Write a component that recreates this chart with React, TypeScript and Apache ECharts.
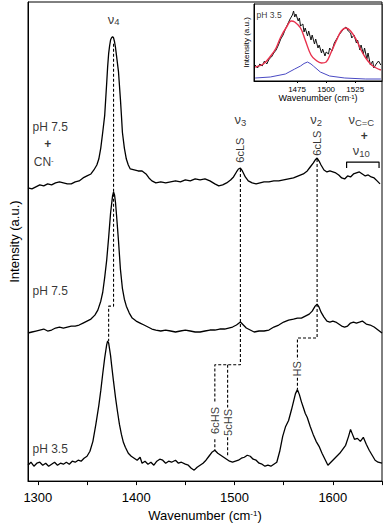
import React, { useEffect, useRef } from "react";
import * as echarts from "echarts";

const FONT = '"Liberation Sans", Arial, Helvetica, sans-serif';

// ---- main axis ticks ----
const xTickValues = [1300, 1350, 1400, 1450, 1500, 1550, 1600, 1650];
const xTickLabels = [1300, 1400, 1500, 1600];

// ---- pH 7.5 + CN- (top trace) ----
const wnCN = [1290, 1294, 1298, 1302, 1306, 1310, 1314, 1318, 1322, 1326, 1330, 1334, 1338, 1342, 1346, 1350, 1354, 1357, 1360, 1362, 1364, 1366, 1368, 1369, 1370, 1371, 1372, 1373, 1374, 1375, 1376, 1377, 1378, 1379, 1380, 1381, 1382, 1383, 1384, 1385, 1386, 1388, 1390, 1392, 1394, 1398, 1402, 1406, 1410, 1413, 1416, 1420, 1425, 1430, 1435, 1440, 1445, 1450, 1455, 1460, 1465, 1470, 1475, 1480, 1484, 1488, 1492, 1496, 1499, 1502, 1504, 1506, 1508, 1511, 1514, 1518, 1522, 1526, 1530, 1535, 1540, 1545, 1550, 1555, 1560, 1565, 1570, 1574, 1577, 1580, 1582, 1584, 1586, 1588, 1591, 1594, 1597, 1600, 1603, 1606, 1609, 1612, 1615, 1618, 1621, 1624, 1627, 1630, 1633, 1636, 1639, 1642, 1645, 1648, 1650];
const intCN = [295, 294, 296, 298, 297, 299, 298, 300, 301, 300, 299, 299, 301, 302, 305, 307, 309, 313, 318, 324, 335, 351, 368, 384, 400, 417, 430, 438, 444, 446, 447, 446, 442, 436, 428, 420, 412, 398, 384, 368, 351, 335, 324, 318, 314, 313, 312, 312, 309, 305, 302, 300, 301, 300, 301, 302, 301, 303, 302, 304, 303, 304, 302, 299, 297, 298, 300, 303, 306, 311, 314, 315, 312, 306, 302, 300, 299, 300, 301, 301, 302, 302, 303, 304, 305, 307, 309, 312, 316, 320, 323, 325, 322, 318, 313, 311, 312, 311, 310, 308, 305, 304, 307, 306, 309, 310, 311, 309, 307, 308, 306, 305, 302, 299];

// ---- pH 7.5 (middle trace) ----
const wnNeutral = [1290, 1294, 1298, 1302, 1306, 1310, 1314, 1318, 1322, 1326, 1330, 1334, 1338, 1342, 1346, 1350, 1354, 1358, 1361, 1364, 1366, 1368, 1370, 1372, 1374, 1376, 1377, 1378, 1379, 1380, 1382, 1384, 1386, 1388, 1390, 1393, 1396, 1400, 1404, 1408, 1412, 1416, 1420, 1425, 1430, 1435, 1440, 1445, 1450, 1455, 1460, 1465, 1470, 1475, 1480, 1485, 1490, 1494, 1498, 1502, 1506, 1509, 1512, 1516, 1520, 1525, 1530, 1535, 1540, 1545, 1550, 1555, 1560, 1564, 1568, 1572, 1576, 1579, 1582, 1584, 1586, 1588, 1591, 1594, 1597, 1600, 1603, 1606, 1609, 1612, 1615, 1618, 1621, 1624, 1627, 1630, 1634, 1638, 1642, 1646, 1650];
const intNeutral = [149, 150, 151, 152, 153, 151, 152, 154, 155, 154, 155, 156, 156, 157, 159, 161, 163, 167, 172, 181, 190, 205, 222, 245, 270, 287, 291, 288, 280, 268, 242, 213, 194, 183, 176, 169, 164, 161, 159, 157, 155, 153, 152, 151, 152, 151, 150, 151, 152, 151, 150, 150, 151, 152, 152, 153, 153, 154, 155, 157, 160, 157, 154, 152, 150, 151, 151, 152, 155, 157, 160, 162, 163, 164, 164, 166, 168, 171, 176, 178, 175, 170, 165, 161, 160, 161, 160, 158, 156, 155, 156, 159, 160, 159, 160, 161, 158, 157, 155, 152, 149];

// ---- pH 3.5 (bottom trace) ----
const wnAcid = [1290, 1293, 1296, 1299, 1302, 1305, 1308, 1311, 1314, 1317, 1320, 1323, 1326, 1329, 1332, 1335, 1338, 1341, 1344, 1347, 1350, 1353, 1356, 1359, 1362, 1364, 1366, 1368, 1370, 1371, 1372, 1374, 1375, 1377, 1379, 1381, 1383, 1385, 1387, 1389, 1392, 1395, 1398, 1401, 1404, 1406, 1409, 1412, 1415, 1418, 1421, 1424, 1427, 1430, 1433, 1436, 1440, 1443, 1446, 1450, 1453, 1456, 1459, 1462, 1465, 1468, 1471, 1474, 1477, 1480, 1483, 1486, 1489, 1492, 1495, 1498, 1501, 1504, 1507, 1510, 1513, 1516, 1519, 1522, 1525, 1528, 1531, 1534, 1537, 1540, 1543, 1546, 1549, 1552, 1555, 1558, 1560, 1562, 1564, 1566, 1568, 1570, 1572, 1574, 1577, 1580, 1583, 1586, 1589, 1592, 1595, 1598, 1601, 1604, 1607, 1610, 1613, 1616, 1618, 1620, 1622, 1625, 1628, 1631, 1634, 1637, 1640, 1643, 1646, 1650];
const intAcid = [16, 19, 15, 18, 19, 16, 18, 15, 17, 19, 16, 18, 17, 19, 17, 20, 19, 21, 20, 23, 25, 30, 40, 57, 76, 91, 108, 124, 137, 141, 139, 126, 117, 100, 84, 70, 57, 47, 39, 34, 28, 25, 23, 21, 24, 18, 20, 17, 19, 16, 20, 22, 21, 18, 20, 19, 21, 18, 19, 17, 16, 13, 11, 14, 16, 18, 21, 25, 29, 31, 28, 26, 24, 22, 20, 19, 20, 21, 23, 24, 26, 25, 22, 21, 18, 17, 15, 16, 15, 17, 19, 30, 45, 55, 61, 72, 80, 88, 92, 87, 80, 74, 68, 64, 55, 47, 40, 35, 28, 22, 16, 19, 22, 25, 28, 32, 36, 45, 52, 47, 42, 43, 40, 44, 37, 31, 26, 21, 19, 18];

// ---- inset (pH 3.5, 1440-1550) ----
const insetTickLabels = [1475, 1500, 1525];
const wnInsetRaw = [1439, 1441, 1443, 1445, 1447, 1449, 1451, 1453, 1455, 1457, 1459, 1461, 1463, 1465, 1467, 1469, 1471, 1472, 1473, 1474, 1476, 1477, 1478, 1480, 1481, 1482, 1484, 1485, 1487, 1488, 1490, 1491, 1493, 1494, 1496, 1497, 1499, 1500, 1502, 1503, 1505, 1507, 1509, 1511, 1513, 1515, 1517, 1519, 1521, 1522, 1524, 1526, 1527, 1529, 1530, 1532, 1533, 1535, 1536, 1538, 1540, 1541, 1543, 1545, 1547];
const intInsetRaw = [16, 13, 17, 15, 20, 17, 22, 24, 28, 31, 36, 42, 46, 52, 57, 62, 66, 70, 64, 67, 60, 63, 55, 57, 49, 53, 45, 50, 41, 46, 37, 42, 33, 36, 28, 32, 25, 29, 27, 33, 30, 38, 42, 46, 49, 52, 54, 50, 48, 43, 46, 38, 41, 31, 36, 27, 33, 22, 28, 16, 20, 13, 17, 20, 16];
const wnInsetFit = [1439, 1446, 1453, 1457, 1461, 1466, 1470, 1473, 1478, 1482, 1487, 1491, 1496, 1500, 1504, 1509, 1513, 1517, 1521, 1526, 1530, 1534, 1539, 1543, 1547];
const intInsetFit = [14, 17, 26, 33, 44, 54, 60, 59, 53, 41, 26, 21, 18, 19, 28, 41, 50, 53, 50, 41, 31, 23, 16, 13, 11];
const wnInsetBand = [1439, 1452, 1465, 1473, 1478, 1481, 1484, 1487, 1489, 1495, 1503, 1516, 1534, 1547];
const intInsetBand = [3, 4, 7, 12, 15, 17.5, 19, 17, 15, 9, 5, 3, 2, 2];

// ---- dashed guide lines (data coordinates) ----
const guideV4 = [[1377, 440], [1377, 176], [1372, 176], [1372, 141]];
const guideV3 = [[1506, 314], [1506, 117], [1480, 117], [1480, 80]];
const guide5cHSUpper = [[1493, 117], [1493, 74]];
const guide6cHSLower = [[1480, 42], [1480, 31]];
const guide5cHSLower = [[1493, 44], [1493, 26]];
const guideV2 = [[1584, 324], [1584, 144], [1564, 144], [1564, 122]];
const guideHSLower = [[1564, 104], [1564, 92]];
const bracketCC = [[1614, 315], [1614, 321], [1647, 321], [1647, 315]];

// ---- text annotations (data coordinates) ----
const modeLabels = [
  { at: [1377, 462], text: "{n|ν}{s|4}" },
  { at: [1506, 361], text: "{n|ν}{s|3}" },
  { at: [1583, 361], text: "{n|ν}{s|2}" },
  { at: [1629, 361], text: "{n|ν}{s|C=C}" },
  { at: [1632, 347], text: "{p|+}" },
  { at: [1629, 330], text: "{n|ν}{s|10}" },
];
const spinLabels = [
  { at: [1506, 333], text: "6cLS" },
  { at: [1584, 340], text: "6cLS" },
  { at: [1480, 61], text: "6cHS" },
  { at: [1493, 59], text: "5cHS" },
  { at: [1564, 113], text: "HS" },
];
const sampleLabels = [
  { at: [1312.5, 356], text: "pH 7.5" },
  { at: [1310, 339], text: "{p|+}" },
  { at: [1306, 321], text: "CN{u|-}" },
  { at: [1312.5, 191], text: "pH 7.5" },
  { at: [1312.5, 32], text: "pH 3.5" },
];

const pairs = (xs: number[], ys: number[]) => xs.map((x, i) => [x, ys[i]]);

export default function App() {
  const ref = useRef<HTMLDivElement>(null);
  useEffect(() => {
    document.body.style.margin = "0";
    const chart = echarts.init(ref.current!, null, { renderer: "svg" });
    const traceStyle = { color: "#000", width: 1.3 };
    const plain = (v: number) => String(v);
    const dashed = (data: number[][]) => ({
      type: "line",
      xAxisIndex: 0,
      yAxisIndex: 0,
      data,
      symbol: "none",
      silent: true,
      lineStyle: { color: "#000", width: 1.1, type: [3, 2] },
    });
    const rich = {
      n: { fontSize: 13, fontFamily: FONT, color: "#000", padding: [0, 0, 5, 0] },
      s: { fontSize: 9.5, fontFamily: FONT, color: "#000" },
      p: { fontSize: 12, fontFamily: FONT, color: "#000", fontWeight: "bold" },
      u: { fontSize: 8, fontFamily: FONT, color: "#000", verticalAlign: "top" },
    };
    const labelSeries = (items: { at: number[]; text: string }[], extra: any, xi = 0) => ({
      type: "scatter",
      xAxisIndex: xi,
      yAxisIndex: xi,
      symbolSize: 0,
      silent: true,
      data: items.map((d) => ({ value: d.at, label: { formatter: d.text } })),
      label: {
        show: true,
        position: "inside",
        color: "#000",
        fontFamily: FONT,
        rich,
        ...extra,
      },
      z: 5,
    });

    chart.setOption({
      animation: false,
      backgroundColor: "#fff",
      grid: [
        { left: 23, right: 4, top: 2, bottom: 43, show: true, borderColor: "#000", borderWidth: 1 },
        { left: 254, right: 4, top: 4, height: 77, show: true, borderColor: "#000", borderWidth: 1, backgroundColor: "#fff", z: 10 },
      ],
      xAxis: [
        {
          type: "value",
          gridIndex: 0,
          min: 1290,
          max: 1650,
          axisLine: { show: true, lineStyle: { color: "#000" } },
          axisTick: { show: true, inside: false, length: 4, customValues: xTickValues, lineStyle: { color: "#000" } },
          axisLabel: { customValues: xTickLabels, formatter: plain, color: "#000", fontSize: 13, fontFamily: FONT, margin: 10 },
          splitLine: { show: false },
          name: "Wavenumber (cm{u|-1})",
          nameLocation: "middle",
          nameGap: 27,
          nameTextStyle: {
            color: "#000",
            fontSize: 13,
            fontFamily: FONT,
            rich: { u: { fontSize: 8, fontFamily: FONT, color: "#000", verticalAlign: "top" } },
          },
        },
        {
          type: "value",
          gridIndex: 1,
          min: 1438,
          max: 1548,
          axisLine: { show: true, lineStyle: { color: "#000" } },
          axisTick: { show: true, length: 2, customValues: insetTickLabels, lineStyle: { color: "#000" } },
          axisLabel: { customValues: insetTickLabels, formatter: plain, color: "#000", fontSize: 8, fontFamily: FONT, margin: 4 },
          splitLine: { show: false },
          name: "Wavenumber (cm{u|-1})",
          nameLocation: "middle",
          nameGap: 11,
          nameTextStyle: {
            color: "#000",
            fontSize: 9,
            fontFamily: FONT,
            rich: { u: { fontSize: 6, fontFamily: FONT, color: "#000", verticalAlign: "top" } },
          },
          z: 10,
        },
      ],
      yAxis: [
        {
          type: "value",
          gridIndex: 0,
          min: 0,
          max: 482,
          axisLine: { show: true, lineStyle: { color: "#000" } },
          axisTick: { show: false },
          axisLabel: { show: false },
          splitLine: { show: false },
          name: "Intensity (a.u.)",
          nameLocation: "middle",
          nameGap: 7,
          nameTextStyle: { color: "#000", fontSize: 13, fontFamily: FONT },
        },
        {
          type: "value",
          gridIndex: 1,
          min: 0,
          max: 77,
          axisLine: { show: true, lineStyle: { color: "#000" } },
          axisTick: { show: false },
          axisLabel: { show: false },
          splitLine: { show: false },
          name: "Intensity (a.u.)",
          nameLocation: "middle",
          nameGap: 4,
          nameTextStyle: { color: "#000", fontSize: 8, fontFamily: FONT },
          z: 10,
        },
      ],
      series: [
        { type: "line", data: pairs(wnCN, intCN), symbol: "none", lineStyle: traceStyle, z: 3 },
        { type: "line", data: pairs(wnNeutral, intNeutral), symbol: "none", lineStyle: traceStyle, z: 3 },
        { type: "line", data: pairs(wnAcid, intAcid), symbol: "none", lineStyle: traceStyle, z: 3 },
        dashed(guideV4),
        dashed(guideV3),
        dashed(guide5cHSUpper),
        dashed(guide6cHSLower),
        dashed(guide5cHSLower),
        dashed(guideV2),
        dashed(guideHSLower),
        {
          type: "line",
          data: bracketCC,
          symbol: "none",
          silent: true,
          lineStyle: { color: "#000", width: 1.2 },
        },
        labelSeries(modeLabels, { fontSize: 13 }),
        labelSeries(spinLabels, { fontSize: 11, rotate: 90 }),
        labelSeries(sampleLabels, { fontSize: 12 }),
        {
          type: "line",
          xAxisIndex: 1,
          yAxisIndex: 1,
          data: pairs(wnInsetBand, intInsetBand),
          symbol: "none",
          lineStyle: { color: "#4a4ac4", width: 1 },
          z: 11,
        },
        {
          type: "line",
          xAxisIndex: 1,
          yAxisIndex: 1,
          data: pairs(wnInsetRaw, intInsetRaw),
          symbol: "none",
          lineStyle: { color: "#111", width: 1 },
          z: 11,
        },
        {
          type: "line",
          xAxisIndex: 1,
          yAxisIndex: 1,
          data: pairs(wnInsetFit, intInsetFit),
          symbol: "none",
          smooth: 0.4,
          lineStyle: { color: "#e8304c", width: 1.4 },
          z: 12,
        },
        {
          type: "scatter",
          xAxisIndex: 1,
          yAxisIndex: 1,
          symbolSize: 0,
          silent: true,
          data: [{ value: [1451, 66] }],
          label: {
            show: true,
            position: "inside",
            formatter: "pH 3.5",
            color: "#000",
            fontSize: 8.5,
            fontFamily: FONT,
          },
          z: 13,
        },
      ],
    });
    return () => chart.dispose();
  }, []);
  return <div ref={ref} style={{ width: 386, height: 527 }} />;
}
